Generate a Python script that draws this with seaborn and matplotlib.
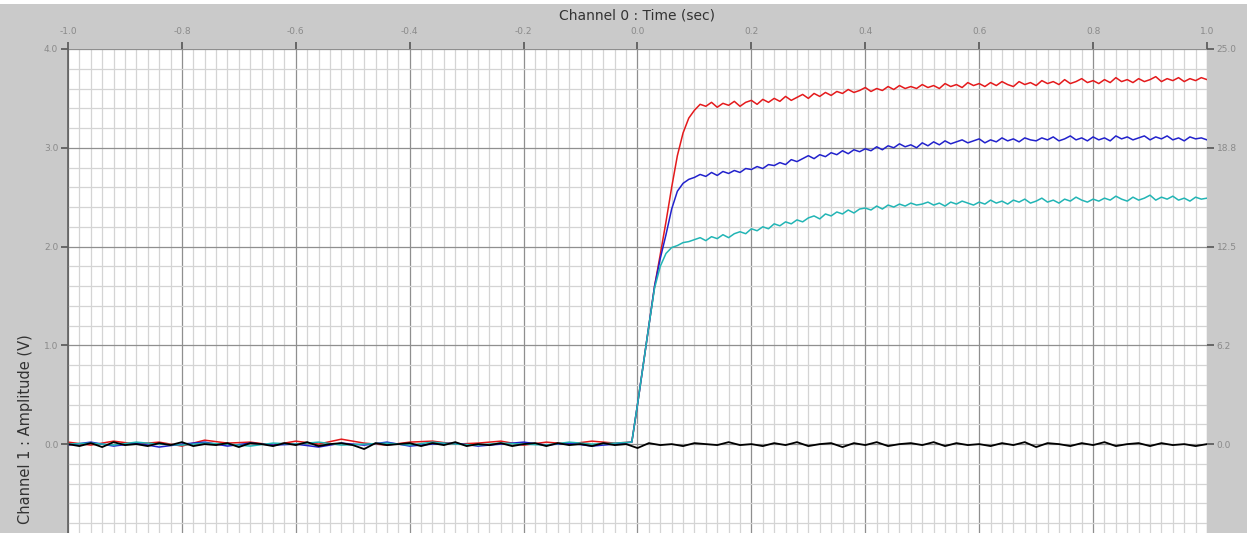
import numpy as np
import matplotlib
matplotlib.use("Agg")
import matplotlib.pyplot as plt
from matplotlib.ticker import MultipleLocator
from matplotlib.patches import Rectangle
import seaborn as sns

# ---------------- data ----------------
# colored traces: baseline sampled every 0.04 s, rise every 0.01 s, plateau every 0.01 s
time_base = np.round(np.arange(-1.00, -0.02, 0.04), 3)           # -1.00 .. -0.04
time_rise = np.array([-0.01, 0.00, 0.01, 0.02, 0.03, 0.04, 0.05, 0.06, 0.07, 0.08, 0.09])
time_post = np.round(np.arange(0.10, 1.005, 0.01), 3)            # 0.10 .. 1.00
time_black = np.round(np.arange(-1.00, 1.005, 0.02), 3)          # -1.00 .. 1.00

red_base = [0.02, -0.01, 0.03, 0.00, 0.02, -0.02, 0.04, 0.01, 0.02, -0.01, 0.03, 0.00, 0.05,
            0.01, -0.01, 0.02, 0.03, 0.00, 0.01, 0.03, -0.01, 0.02, 0.00, 0.03, 0.01]
blue_base = [-0.01, 0.02, -0.02, 0.01, -0.03, 0.00, 0.02, -0.02, 0.01, -0.01, 0.00, -0.03, 0.01,
             -0.01, 0.02, -0.02, 0.00, 0.01, -0.02, 0.00, 0.02, -0.01, 0.01, -0.02, 0.00]
cyan_base = [0.00, 0.01, -0.01, 0.02, 0.00, -0.01, 0.01, 0.00, -0.02, 0.01, 0.00, 0.02, -0.01,
             0.00, 0.01, -0.01, 0.02, 0.00, -0.01, 0.01, 0.00, -0.01, 0.02, 0.00, 0.01]

red_rise = [0.02, 0.40, 0.80, 1.20, 1.60, 1.92, 2.25, 2.60, 2.92, 3.15, 3.30]
blue_rise = [0.02, 0.40, 0.80, 1.20, 1.60, 1.88, 2.12, 2.38, 2.56, 2.64, 2.68]
cyan_rise = [0.02, 0.40, 0.80, 1.20, 1.58, 1.80, 1.93, 1.99, 2.01, 2.04, 2.05]

red_post = [3.38, 3.44, 3.42, 3.46, 3.41, 3.45, 3.43, 3.47, 3.42, 3.46,
            3.48, 3.44, 3.49, 3.46, 3.50, 3.47, 3.52, 3.48, 3.51, 3.54,
            3.50, 3.55, 3.52, 3.56, 3.53, 3.57, 3.55, 3.59, 3.56, 3.58,
            3.61, 3.57, 3.60, 3.58, 3.62, 3.59, 3.63, 3.60, 3.62, 3.60,
            3.64, 3.61, 3.63, 3.60, 3.65, 3.62, 3.64, 3.61, 3.66, 3.63,
            3.65, 3.62, 3.66, 3.63, 3.67, 3.64, 3.62, 3.67, 3.64, 3.66,
            3.63, 3.68, 3.65, 3.67, 3.64, 3.69, 3.65, 3.67, 3.70, 3.66,
            3.68, 3.65, 3.69, 3.66, 3.71, 3.67, 3.69, 3.66, 3.70, 3.67,
            3.69, 3.72, 3.67, 3.70, 3.68, 3.71, 3.67, 3.70, 3.68, 3.71,
            3.69]
blue_post = [2.70, 2.73, 2.71, 2.75, 2.72, 2.76, 2.74, 2.77, 2.75, 2.79,
             2.78, 2.81, 2.79, 2.83, 2.82, 2.85, 2.83, 2.88, 2.86, 2.89,
             2.92, 2.89, 2.93, 2.91, 2.95, 2.93, 2.97, 2.94, 2.98, 2.96,
             2.99, 2.97, 3.01, 2.98, 3.02, 3.00, 3.04, 3.01, 3.03, 3.00,
             3.05, 3.02, 3.06, 3.03, 3.07, 3.04, 3.06, 3.08, 3.05, 3.07,
             3.09, 3.05, 3.08, 3.06, 3.10, 3.07, 3.09, 3.06, 3.10, 3.08,
             3.07, 3.10, 3.08, 3.11, 3.07, 3.09, 3.12, 3.08, 3.10, 3.07,
             3.11, 3.08, 3.10, 3.07, 3.12, 3.09, 3.11, 3.08, 3.10, 3.12,
             3.08, 3.11, 3.09, 3.12, 3.08, 3.10, 3.07, 3.11, 3.09, 3.10,
             3.08]
cyan_post = [2.07, 2.09, 2.06, 2.10, 2.08, 2.12, 2.09, 2.13, 2.15, 2.13,
             2.18, 2.16, 2.20, 2.18, 2.23, 2.21, 2.25, 2.23, 2.27, 2.25,
             2.29, 2.31, 2.28, 2.33, 2.31, 2.35, 2.33, 2.37, 2.34, 2.38,
             2.39, 2.37, 2.41, 2.38, 2.42, 2.40, 2.43, 2.41, 2.44, 2.42,
             2.43, 2.45, 2.42, 2.44, 2.41, 2.45, 2.43, 2.46, 2.44, 2.42,
             2.45, 2.43, 2.47, 2.44, 2.46, 2.43, 2.47, 2.45, 2.48, 2.44,
             2.46, 2.49, 2.45, 2.47, 2.44, 2.48, 2.46, 2.50, 2.47, 2.45,
             2.48, 2.46, 2.49, 2.47, 2.51, 2.48, 2.46, 2.50, 2.47, 2.49,
             2.52, 2.47, 2.50, 2.48, 2.51, 2.47, 2.49, 2.46, 2.50, 2.48,
             2.49]
black_vals = [0.00, -0.02, 0.01, -0.03, 0.02, -0.01, 0.00, -0.02, 0.01, -0.01,
              0.02, -0.02, 0.00, -0.01, 0.01, -0.03, 0.01, 0.00, -0.02, 0.01,
              -0.01, 0.02, -0.02, 0.00, 0.01, -0.01, -0.05, 0.01, -0.01, 0.00,
              0.01, -0.02, 0.01, -0.01, 0.02, -0.02, 0.00, -0.01, 0.01, -0.02,
              0.00, 0.01, -0.02, 0.01, -0.01, 0.00, -0.02, 0.01, -0.01, 0.00,
              -0.04, 0.01, -0.01, 0.00, -0.02, 0.01, 0.00, -0.01, 0.02, -0.01,
              0.00, -0.02, 0.01, -0.01, 0.02, -0.02, 0.00, 0.01, -0.03, 0.01,
              -0.01, 0.02, -0.02, 0.00, 0.01, -0.01, 0.02, -0.02, 0.01, -0.01,
              0.00, -0.02, 0.01, -0.01, 0.02, -0.03, 0.01, 0.00, -0.02, 0.01,
              -0.01, 0.02, -0.02, 0.00, 0.01, -0.02, 0.01, -0.01, 0.00, -0.02,
              0.00]

x_ticks = [-1.0, -0.8, -0.6, -0.4, -0.2, 0.0, 0.2, 0.4, 0.6, 0.8, 1.0]
x_labels = ["-1.0", "-0.8", "-0.6", "-0.4", "-0.2", "0.0", "0.2", "0.4", "0.6", "0.8", "1.0"]
y_ticks = [0.0, 1.0, 2.0, 3.0, 4.0]
y_labels = ["0.0", "1.0", "2.0", "3.0", "4.0"]
y2_ticks = [0.0, 6.25, 12.5, 18.75, 25.0]
y2_labels = ["0.0", "6.2", "12.5", "18.8", "25.0"]

# ---------------- figure ----------------
sns.set_theme(style="white")
plt.rcParams['font.family'] = ['DejaVu Sans']

W, H = 1247, 533
fig = plt.figure(figsize=(W / 100, H / 100), dpi=100, facecolor="#cacaca")
ax = fig.add_axes([68 / W, 0.0, (1207 - 68) / W, 1 - 49 / H])
ax.set_facecolor("white")

tick_col = "#8a8a8a"
t_col = np.concatenate([time_base, time_rise, time_post])
series = [
    (np.array(red_base + red_rise + red_post), "#e41a1c"),
    (np.array(blue_base + blue_rise + blue_post), "#2222cc"),
    (np.array(cyan_base + cyan_rise + cyan_post), "#22b5b5"),
]
for vals, col in series:
    sns.lineplot(x=t_col, y=vals, color=col, lw=1.1, ax=ax, sort=False, estimator=None)
sns.lineplot(x=time_black, y=np.array(black_vals), color="black", lw=1.3, ax=ax,
             sort=False, estimator=None)

ax.set_xlim(-1.0, 1.0)
ax.set_ylim(-0.9, 4.0)

ax.xaxis.tick_top()
ax.xaxis.set_label_position("top")
ax.set_xticks(x_ticks)
ax.set_xticklabels(x_labels)
ax.set_yticks(y_ticks)
ax.set_yticklabels(y_labels)
ax.xaxis.set_minor_locator(MultipleLocator(0.02))
ax.yaxis.set_minor_locator(MultipleLocator(0.2))

ax.grid(which="major", color="#8f8f8f", lw=0.9)
ax.grid(which="minor", color="#d4d4d4", lw=0.9)
ax.set_axisbelow(True)

ax.tick_params(axis="x", which="major", top=True, bottom=False, direction="out",
               length=5, width=1.2, color="#555555", labelsize=6.5, labelcolor=tick_col, pad=4.5)
ax.tick_params(axis="y", which="major", left=True, direction="out",
               length=5, width=1.2, color="#555555", labelsize=6.5, labelcolor=tick_col, pad=2)
ax.tick_params(which="minor", length=0)

for side in ["top", "right", "bottom"]:
    ax.spines[side].set_visible(False)
ax.spines["left"].set_color("#606060")
ax.spines["left"].set_linewidth(1.2)

ax.set_xlabel("Channel 0 : Time (sec)", fontsize=10, color="#333333", labelpad=5)
ax.set_ylabel("Channel 1 : Amplitude (V)", fontsize=10.5, color="#333333")
ax.yaxis.set_label_coords(-0.031, 0.215)

ax2 = ax.twinx()
ax2.set_ylim(-0.9 * 6.25, 25.0)
ax2.set_yticks(y2_ticks)
ax2.set_yticklabels(y2_labels)
ax2.tick_params(axis="y", direction="out", length=5, width=1.2, color="#555555",
                labelsize=6.5, labelcolor=tick_col, pad=2)
ax2.grid(False)
for side in ["top", "right", "bottom", "left"]:
    ax2.spines[side].set_visible(False)

# thin white strip at the very top (cropped page margin)
fig.patches.append(Rectangle((0, 1 - 4 / H), 1, 4 / H, transform=fig.transFigure,
                             facecolor="white", edgecolor="none", zorder=10))

fig.savefig("out.png", dpi=100, facecolor=fig.get_facecolor())
